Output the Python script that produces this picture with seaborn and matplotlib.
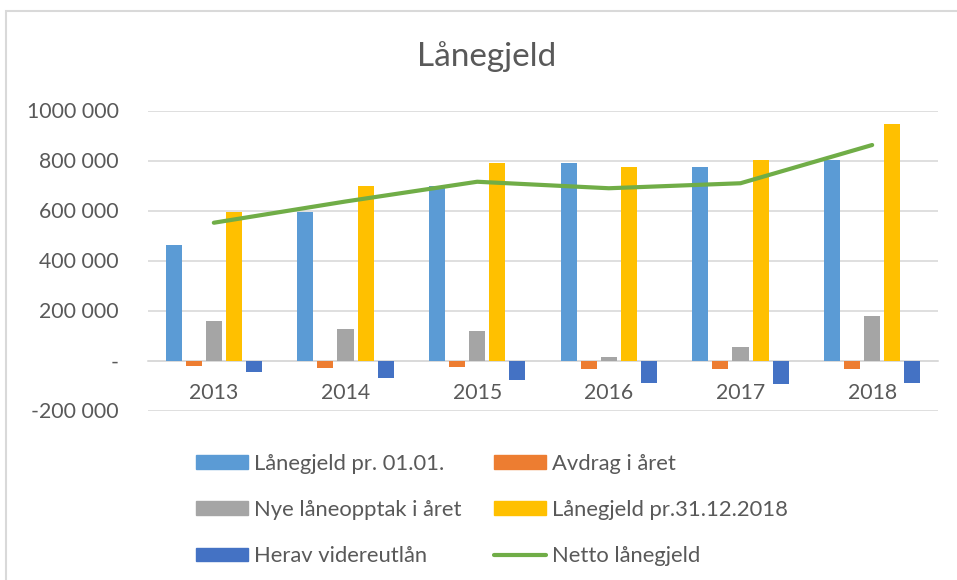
import numpy as np
import pandas as pd
import matplotlib
matplotlib.use("Agg")
import matplotlib.pyplot as plt
import matplotlib.patches as mpatches
from matplotlib.lines import Line2D
import seaborn as sns

years = ["2013", "2014", "2015", "2016", "2017", "2018"]
series = ["Lånegjeld pr. 01.01.", "Avdrag i året", "Nye låneopptak i året",
          "Lånegjeld pr.31.12.2018", "Herav videreutlån"]
laanegjeld_0101 = [462000, 595000, 700000, 791000, 775000, 802000]
avdrag = [-22000, -29000, -27000, -33000, -33000, -33000]
nye_laan = [157000, 127000, 118000, 13000, 54000, 177000]
laanegjeld_3112 = [595000, 700000, 791000, 775000, 802000, 946000]
videreutlaan = [-46000, -69000, -79000, -89000, -95000, -89000]
netto_label = "Netto lånegjeld"
netto = [551000, 636000, 715000, 689000, 709000, 862000]

ytick_values = [-200000, 0, 200000, 400000, 600000, 800000, 1000000]
ytick_labels = ["-200 000", "-", "200 000", "400 000", "600 000", "800 000", "1000 000"]

colors = ["#5B9BD5", "#ED7D31", "#A5A5A5", "#FFC000", "#4472C4"]
green = "#70AD47"
txt = "#595959"

sns.set_theme(style="white")
plt.rcParams["font.family"] = ["Lato", "DejaVu Sans"]

values = [laanegjeld_0101, avdrag, nye_laan, laanegjeld_3112, videreutlaan]
df = pd.DataFrame({
    "year": np.tile(years, len(series)),
    "series": np.repeat(series, len(years)),
    "value": np.concatenate(values),
})

fig = plt.figure(figsize=(9.57, 5.8), dpi=100)
ax = fig.add_axes([148 / 957, 1 - 410.5 / 580, 790 / 957, 300 / 580])

sns.barplot(data=df, x="year", y="value", hue="series", hue_order=series,
            order=years, palette=colors, saturation=1, width=0.76, gap=0.2,
            legend=False, ax=ax, edgecolor="none", linewidth=0, zorder=3)
sns.lineplot(x=np.arange(len(years)), y=netto, color=green, lw=3,
             ax=ax, solid_capstyle="round", zorder=4)

ax.set_ylim(-200000, 1000000)
ax.set_xlim(-0.5, len(years) - 0.5)
ax.set_yticks(ytick_values, ytick_labels)
ax.set_xticks(range(len(years)), years)
ax.yaxis.grid(True, color="#d9d9d9", lw=1.2, zorder=0)
ax.set_axisbelow(True)
for s in ["top", "right", "left"]:
    ax.spines[s].set_visible(False)
ax.spines["bottom"].set_position(("data", 0))
ax.spines["bottom"].set_color("#d9d9d9")
ax.spines["bottom"].set_linewidth(1.2)
ax.spines["bottom"].set_zorder(1)
ax.tick_params(axis="both", length=0, labelsize=15.3, labelcolor=txt)
ax.tick_params(axis="y", pad=21)
ax.tick_params(axis="x", pad=16)
ax.set_xlabel("")
ax.set_ylabel("")

fig.text(487 / 957, 1 - 57 / 580, "Lånegjeld", ha="center", va="center",
         fontsize=24, color=txt)

handles = [mpatches.Patch(color=c) for c in colors]
handles.append(Line2D([0], [0], color=green, lw=3, solid_capstyle="round"))
labels = series + [netto_label]
order = [0, 2, 4, 1, 3, 5]
fig.legend([handles[i] for i in order], [labels[i] for i in order],
           loc="upper left", bbox_to_anchor=(196 / 957, 1 - 454 / 580),
           ncol=2, frameon=False, fontsize=15.8, labelcolor=txt,
           handlelength=2.37, handleheight=0.6, handletextpad=0.27,
           columnspacing=1.5, labelspacing=1.19, borderpad=0, borderaxespad=0)

fig.patches.append(mpatches.Rectangle((6 / 957, -0.1), 2, (580 - 11) / 580 + 0.1,
                                      transform=fig.transFigure, fill=False,
                                      ec="#d9d9d9", lw=1.5))

fig.savefig("out.png", dpi=100)
